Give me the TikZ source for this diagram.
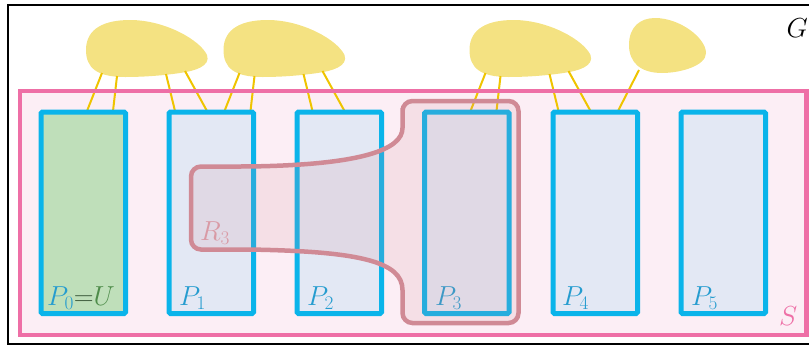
\RequirePackage{fix-cm}
\documentclass[tikz,border=0pt]{standalone}
\definecolor{pblue}{HTML}{0AB4EA}
\definecolor{plabel}{HTML}{259CCF}
\definecolor{pfill}{HTML}{E3E8F4}
\definecolor{gfill}{HTML}{BFDFBA}
\definecolor{sborder}{HTML}{EE6FA6}
\definecolor{sfill}{HTML}{FCEEF5}
\definecolor{rcol}{HTML}{D08A95}
\definecolor{rlab}{HTML}{D99AA5}
\definecolor{blobfill}{HTML}{F4E282}
\definecolor{yline}{HTML}{EFC400}
\definecolor{ugreen}{HTML}{4E8C4A}
\definecolor{eqgreen}{HTML}{3C5A3C}
\tikzset{
  pbox/.style={draw=pblue, fill=pfill, line width=5pt, rounded corners=1.5pt,
    minimum width=84.5pt, minimum height=201.7pt, inner sep=0pt, outer sep=0pt, anchor=north west},
  txt/.style={anchor=base west, inner sep=0pt, font=\fontsize{27.5}{32}\selectfont},
  plab/.style={txt, text=plabel},
  yl/.style={draw=yline, line width=2pt},
  blob/.style={fill=blobfill, draw=none},
  r3/.style={draw=rcol, line width=4.5pt, fill=rcol, fill opacity=0.15, rounded corners=10pt},
}
\begin{document}
\begin{tikzpicture}[x=1pt, y=-1pt]
\useasboundingbox (0,0) rectangle (809,346);
\clip (0,0) rectangle (809,346);
% outer frame G
\draw[line width=2pt, black] (8,5) rectangle (830,343.5);
\node[txt] (G) at (786.5,37) {$G$};
% S fill
\fill[sfill] (20,91) rectangle (806.7,335);
% blobs and yellow lines
\foreach \s/\n in {0/a, 137.5/b, 383.5/c} {
  \begin{scope}[xshift=\s pt]
    \fill[blob] (86,50) .. controls (86,28) and (105,20) .. (130,20)
      .. controls (165,20) and (200,40) .. (207,55)
      .. controls (211,66) and (195,71) .. (180,73)
      .. controls (160,76) and (140,77) .. (125,77)
      .. controls (97,77) and (86,68) .. (86,50) -- cycle;
    \coordinate (\n1) at (102,73); \coordinate (\n2) at (117,76); \coordinate (\n3) at (166,74); \coordinate (\n4) at (185,71);
    \coordinate (\n5) at (87,111); \coordinate (\n6) at (113,111); \coordinate (\n7) at (175,111); \coordinate (\n8) at (207,111);
    \draw[yl] (\n1) -- (\n5);
    \draw[yl] (\n2) -- (\n6);
    \draw[yl] (\n3) -- (\n7);
    \draw[yl] (\n4) -- (\n8);
  \end{scope}
}
\fill[blob] (629,45) .. controls (629,27) and (640,18) .. (655,18)
  .. controls (680,18) and (706,38) .. (706,53)
  .. controls (706,66) and (680,73) .. (662,73)
  .. controls (640,73) and (629,62) .. (629,45) -- cycle;
\coordinate (d1) at (639,70); \coordinate (d2) at (618,111);
\draw[yl] (d1) -- (d2);
% S border
\draw[sborder, line width=4.5pt] (20,91) rectangle (806.7,335);
\node[txt, text=sborder] (S) at (779,325) {$S$};
% parts
\node[pbox, fill=gfill] (P0) at (41,112) {};
\node[pbox] (P1) at (169,112) {};
\node[pbox] (P2) at (297,112) {};
\node[pbox] (P3) at (424.5,112) {};
\node[pbox] (P4) at (553,112) {};
\node[pbox] (P5) at (681,112) {};
\node[plab] (L0) at (47,305) {$P_0\textcolor{eqgreen}{{=}}\textcolor{ugreen}{U}$};
\node[plab] (L1) at (179,305) {$P_1$};
\node[plab] (L2) at (307,305) {$P_2$};
\node[plab] (L3) at (435,305) {$P_3$};
\node[plab] (L4) at (562,305) {$P_4$};
\node[plab] (L5) at (691,305) {$P_5$};
% R3
\draw[r3] (460,101) -- (518.5,101) -- (518.5,323) -- (402.5,323) -- (402.5,300)
  .. controls (402.5,262) and (360,252) .. (250,249.5) -- (191,249.5) -- (191,166.5) -- (250,166.5)
  .. controls (360,164) and (402.5,150) .. (402.5,118) -- (402.5,101) -- cycle;
\node[txt, text=rlab] (R3) at (200,240) {$R_3$};
\end{tikzpicture}
\end{document}
